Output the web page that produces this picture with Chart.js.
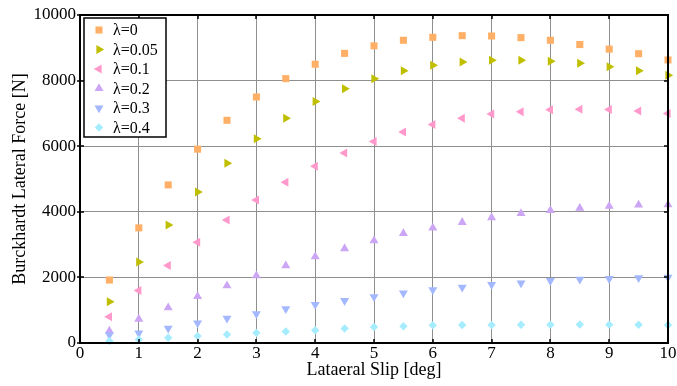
<!DOCTYPE html>
<html>
<head>
<meta charset="utf-8">
<script src="https://cdn.jsdelivr.net/npm/chart.js@4/dist/chart.umd.min.js"></script>
<style>
  html, body { margin: 0; padding: 0; background: #fff; }
  #wrap { width: 677px; height: 386px; }
</style>
</head>
<body>
<div id="wrap"><canvas id="slipChart" width="677" height="386"></canvas></div>
<script>
// slip angle [deg]
const slip = [0.5, 1, 1.5, 2, 2.5, 3, 3.5, 4, 4.5, 5, 5.5, 6, 6.5, 7, 7.5, 8, 8.5, 9, 9.5, 10];

// lateral force [N] for each lambda
const force0 = [1920, 3510, 4820, 5910, 6790, 7500, 8060, 8500, 8830, 9060, 9230, 9320, 9370, 9360, 9310, 9230, 9100, 8960, 8820, 8630];
const force005 = [1260, 2470, 3600, 4600, 5480, 6230, 6850, 7360, 7750, 8060, 8300, 8470, 8570, 8620, 8620, 8590, 8530, 8420, 8300, 8160];
const force01 = [800, 1600, 2360, 3070, 3750, 4360, 4900, 5390, 5790, 6140, 6430, 6660, 6850, 6980, 7050, 7110, 7130, 7120, 7070, 7000];
const force02 = [370, 730, 1080, 1420, 1750, 2050, 2360, 2630, 2880, 3120, 3340, 3510, 3680, 3820, 3950, 4040, 4110, 4170, 4210, 4220];
const force03 = [250, 300, 450, 610, 750, 890, 1040, 1170, 1290, 1410, 1520, 1620, 1700, 1780, 1830, 1900, 1940, 1960, 1990, 2000];
const force04 = [60, 110, 160, 210, 260, 310, 350, 390, 440, 490, 510, 540, 550, 550, 555, 560, 565, 560, 555, 550];

const labels = ['λ=0', 'λ=0.05', 'λ=0.1', 'λ=0.2', 'λ=0.3', 'λ=0.4'];
const xTicks = [0, 1, 2, 3, 4, 5, 6, 7, 8, 9, 10];
const yTicks = [0, 2000, 4000, 6000, 8000, 10000];

const series = [force0, force005, force01, force02, force03, force04];
const colors = ['#ffb066', '#bfbf00', '#ff99cc', '#cca6f5', '#a3b8ff', '#a6ecff'];
const styles = ['rect', 'triangle', 'triangle', 'triangle', 'triangle', 'rectRot'];
const rotations = [0, 90, -90, 0, 180, 0];
const radii = [5, 5.2, 5.2, 5.2, 5.2, 4.2];

const serif = "'Liberation Serif', 'Times New Roman', serif";

const datasets = series.map((vals, i) => ({
  label: labels[i],
  data: vals.map((v, j) => ({ x: slip[j], y: v })),
  pointStyle: styles[i],
  rotation: rotations[i],
  pointRadius: radii[i],
  pointHoverRadius: radii[i],
  backgroundColor: colors[i],
  borderColor: colors[i],
  borderWidth: 0,
  showLine: false,
  clip: false,
  order: series.length - i
}));

// tick marks on all four sides plus the box outline and the legend
const frame = {
  id: 'frame',
  afterDatasetsDraw(chart) {
    const { ctx, chartArea: a, scales } = chart;
    ctx.save();
    ctx.strokeStyle = '#000';
    ctx.lineWidth = 1.5;
    ctx.beginPath();
    xTicks.forEach(t => {
      const px = Math.round(scales.x.getPixelForValue(t));
      ctx.moveTo(px, a.bottom); ctx.lineTo(px, a.bottom - 4);
      ctx.moveTo(px, a.top); ctx.lineTo(px, a.top + 4);
    });
    yTicks.forEach(t => {
      const py = Math.round(scales.y.getPixelForValue(t));
      ctx.moveTo(a.left - 3, py); ctx.lineTo(a.left + 4, py);
      ctx.moveTo(a.right, py); ctx.lineTo(a.right - 4, py);
    });
    ctx.stroke();
    ctx.lineWidth = 2;
    ctx.strokeRect(a.left, a.top, a.right - a.left, a.bottom - a.top);

    const lx = 84, ly = 18, lw = 82, lh = 119;
    ctx.fillStyle = '#fff';
    ctx.fillRect(lx, ly, lw, lh);
    ctx.lineWidth = 1.5;
    ctx.strokeRect(lx, ly, lw, lh);
    ctx.font = '16px ' + serif;
    ctx.textBaseline = 'middle';
    ctx.textAlign = 'left';
    chart.data.datasets.forEach((ds, i) => {
      const y = 30 + i * 19.5;
      ctx.fillStyle = ds.backgroundColor;
      ctx.strokeStyle = ds.backgroundColor;
      Chart.helpers.drawPoint(ctx, {
        pointStyle: ds.pointStyle,
        rotation: ds.rotation,
        radius: ds.pointRadius,
        borderWidth: 0
      }, 99, y);
      ctx.fillStyle = '#000';
      ctx.fillText(ds.label, 113, y + 1);
    });
    ctx.restore();
  }
};

new Chart(document.getElementById('slipChart').getContext('2d'), {
  type: 'scatter',
  data: { datasets: datasets },
  plugins: [frame],
  options: {
    responsive: false,
    animation: false,
    layout: { padding: { top: 15, right: 9, left: 0, bottom: 0 } },
    plugins: {
      legend: { display: false },
      tooltip: { enabled: false }
    },
    scales: {
      x: {
        type: 'linear',
        min: 0,
        max: 10,
        afterBuildTicks: s => { s.ticks = xTicks.map(v => ({ value: v })); },
        afterFit: s => { s.height = 43; },
        grid: { color: '#8f8f8f', lineWidth: 1, drawTicks: false },
        border: { display: false },
        ticks: { color: '#000', font: { family: serif, size: 17 }, padding: 0, maxRotation: 0, callback: v => String(v) },
        title: { display: true, text: 'Lataeral Slip [deg]', color: '#000', font: { family: serif, size: 18 }, padding: { top: 0, bottom: 5 } }
      },
      y: {
        type: 'linear',
        min: 0,
        max: 10000,
        afterBuildTicks: s => { s.ticks = yTicks.map(v => ({ value: v })); },
        afterFit: s => { s.width = 80; },
        grid: { color: '#8f8f8f', lineWidth: 1, drawTicks: false },
        border: { display: false },
        ticks: { color: '#000', font: { family: serif, size: 17 }, padding: 4, callback: v => String(v) },
        title: { display: true, text: 'Burckhardt Lateral Force [N]', color: '#000', font: { family: serif, size: 18 }, padding: { top: 9, bottom: 0 } }
      }
    }
  }
});
</script>
</body>
</html>
